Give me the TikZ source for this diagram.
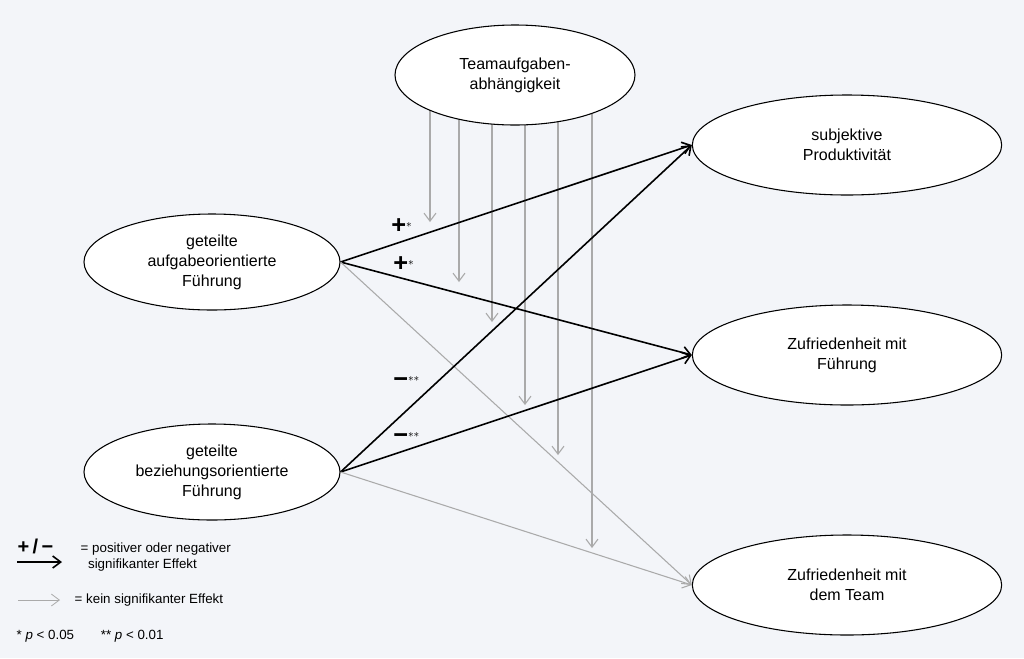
\documentclass[tikz,border=0pt]{standalone}
\usepackage{fontspec}
\setmainfont{Liberation Sans}
\usetikzlibrary{arrows.meta,shapes.geometric}
\definecolor{bgcol}{HTML}{F3F5F9}
\definecolor{nsgray}{HTML}{AAAAAA}
\newcommand{\bigsign}[1]{{\fontsize{19}{19}\selectfont\bfseries #1}}
\begin{document}
\begin{tikzpicture}[
    x=0.75pt,y=-0.75pt,
    var/.style={draw,ellipse,fill=white,thick,minimum width=#1,align=center,
      font=\fontsize{12}{15}\selectfont},
    var/.default=190pt,
    sig/.style={-{Straight Barb[length=6pt,width=9pt]},black,line width=1.2pt},
    nonsig/.style={-{Straight Barb[length=6pt,width=9pt]},nsgray,line width=0.8pt},
    coef/.style={font=\fontsize{12}{13}\selectfont,anchor=west,inner sep=0pt},
    legend/.style={font=\fontsize{10}{12.5}\selectfont,anchor=west}
]
\fill[bgcol] (0,0) rectangle (1024,658);

%Draw the moderator arrows
\foreach \x/\y in {430/222,459/282,492/322,525/405,558/455,592/548}
  \draw[nonsig] (\x,110) -- (\x,\y);

%Draw the variables
\node[var=180pt,minimum height=75pt] (team) at (515,75) {Teamaufgaben-\\abhängigkeit};
\node[var=232pt,minimum height=75pt] (prod) at (847,145) {subjektive\\Produktivität};
\node[var=232pt,minimum height=75pt] (zfuehr) at (847,355) {Zufriedenheit mit\\Führung};
\node[var=232pt,minimum height=75pt] (zteam) at (847,585) {Zufriedenheit mit\\dem Team};
\node[var=192pt,minimum height=72pt] (aufg) at (212,262) {geteilte\\aufgabeorientierte\\Führung};
\node[var=192pt,minimum height=72pt] (bez) at (212,472) {geteilte\\beziehungsorientierte\\Führung};

%Draw the paths
\draw[sig] (aufg.east) -- (prod.west);
\draw[sig] (aufg.east) -- (zfuehr.west);
\draw[nonsig] (aufg.east) -- (zteam.west);
\draw[sig] (bez.east) -- (prod.west);
\draw[sig] (bez.east) -- (zfuehr.west);
\draw[nonsig] (bez.east) -- (zteam.west);

%Coefficients
\node[coef] (c1) at (391,226) {\bigsign{+}$^{*}$};
\node[coef] (c2) at (393,264) {\bigsign{+}$^{*}$};
\node[coef] (c3) at (393,382) {\bigsign{\textminus}$^{**}$};
\node[coef] (c4) at (393,438) {\bigsign{\textminus}$^{**}$};

%Legend
\node[legend,font=\fontsize{15}{15}\selectfont\bfseries] (lsym) at (13,546) {+\,/\,\textminus};
\coordinate (ls1) at (17,562);
\coordinate (ls2) at (62,562);
\draw[sig] (ls1) -- (ls2);
\node[legend,align=left] (ltxt) at (76,557) {= positiver oder negativer\\\ \ signifikanter Effekt};
\coordinate (ln1) at (18,600);
\coordinate (ln2) at (60,600);
\draw[nonsig,line width=0.6pt] (ln1) -- (ln2);
\node[legend] (lntxt) at (70,600) {= kein signifikanter Effekt};
\node[legend] (lp) at (12,636) {* \textit{p} < 0.05\qquad ** \textit{p} < 0.01};
\end{tikzpicture}
\end{document}
